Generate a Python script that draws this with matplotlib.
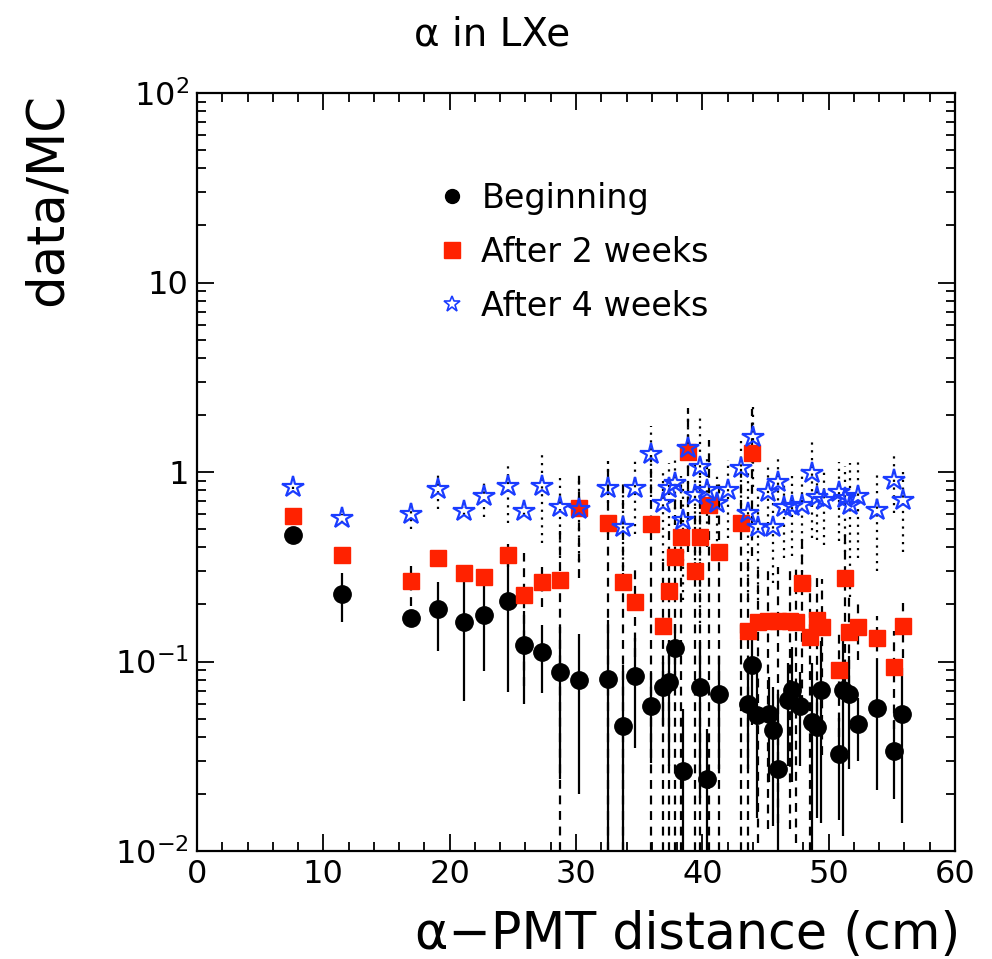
import matplotlib
matplotlib.use('Agg')
import matplotlib.pyplot as plt
from matplotlib.lines import Line2D
from matplotlib.ticker import MultipleLocator, FixedLocator, NullFormatter

plt.rcParams['font.family'] = ['DejaVu Sans']
plt.rcParams['mathtext.default'] = 'regular'

# Beginning (black circles)
x_beg = [7.6, 11.5, 16.9, 19.1, 21.1, 22.7, 24.6, 25.9, 27.3, 28.7, 30.2, 32.5, 33.7, 34.7,
         35.9, 36.9, 37.4, 37.8, 38.5, 39.8, 40.4, 41.3, 43.6, 43.9, 44.3, 45.3, 45.6, 46.0,
         46.8, 47.1, 47.7, 48.7, 49.1, 49.4, 50.8, 51.1, 51.6, 52.3, 53.8, 55.2, 55.8]
y_beg = [0.465, 0.227, 0.17, 0.189, 0.162, 0.176, 0.209, 0.122, 0.112, 0.088, 0.080, 0.081,
         0.0457, 0.084, 0.058, 0.073, 0.078, 0.118, 0.0264, 0.073, 0.024, 0.067, 0.060, 0.096,
         0.052, 0.053, 0.0435, 0.027, 0.063, 0.071, 0.058, 0.048, 0.045, 0.071, 0.0325, 0.071,
         0.067, 0.047, 0.057, 0.0338, 0.053]
e_beg = [0.01, 0.065, 0.015, 0.075, 0.10, 0.087, 0.14, 0.062, 0.044, 0.064, 0.06, 0.085,
         0.05, 0.049, 0.029, 0.027, 0.05, 0.04, 0.03, 0.054, 0.02, 0.04, 0.033, 0.05,
         0.037, 0.03, 0.03, 0.04, 0.035, 0.048, 0.03, 0.05, 0.03, 0.057, 0.018, 0.059,
         0.04, 0.017, 0.036, 0.015, 0.039]

# After 2 weeks (red squares)
x_2w = [7.6, 11.5, 16.9, 19.1, 21.1, 22.7, 24.6, 25.9, 27.3, 28.7, 30.2, 32.5, 33.7, 34.7,
        35.9, 36.9, 37.4, 37.8, 38.3, 38.9, 39.4, 39.8, 40.5, 41.3, 43.1, 43.6, 43.9, 44.4,
        45.2, 46.0, 46.9, 47.4, 47.9, 48.5, 49.1, 49.5, 50.8, 51.3, 51.6, 52.3, 53.8, 55.2, 55.9]
y_2w = [0.586, 0.365, 0.266, 0.352, 0.293, 0.28, 0.365, 0.224, 0.263, 0.27, 0.646, 0.538,
        0.263, 0.206, 0.532, 0.154, 0.236, 0.356, 0.454, 1.28, 0.30, 0.454, 0.67, 0.38,
        0.54, 0.144, 1.26, 0.161, 0.163, 0.164, 0.163, 0.161, 0.26, 0.135, 0.165, 0.152,
        0.09, 0.276, 0.143, 0.152, 0.133, 0.094, 0.154]
e_2w = [0.02, 0.02, 0.07, 0.02, 0.02, 0.02, 0.05, 0.15, 0.07, 0.26, 0.37, 0.6,
        0.6, 0.1, 0.7, 0.2, 0.25, 0.4, 0.5, 0.9, 0.35, 0.5, 0.8, 0.5,
        0.6, 0.2, 0.9, 0.15, 0.15, 0.15, 0.15, 0.15, 0.2, 0.15, 0.12, 0.12,
        0.05, 0.2, 0.08, 0.05, 0.04, 0.05, 0.05]

# After 4 weeks (blue open stars)
x_4w = [7.6, 11.5, 16.9, 19.1, 21.1, 22.7, 24.6, 25.9, 27.3, 28.7, 30.2, 32.5, 33.7, 34.7,
        35.9, 36.9, 37.4, 37.8, 38.5, 38.9, 39.4, 39.8, 40.4, 41.2, 42.0, 43.1, 43.6, 44.0,
        44.4, 45.2, 45.6, 46.0, 46.5, 47.1, 47.9, 48.7, 49.1, 49.6, 50.8, 51.3, 51.7, 52.3,
        53.8, 55.2, 55.9]
y_4w = [0.83, 0.57, 0.60, 0.81, 0.62, 0.75, 0.84, 0.62, 0.84, 0.65, 0.64, 0.82, 0.51, 0.82,
        1.24, 0.69, 0.82, 0.875, 0.56, 1.34, 0.76, 1.06, 0.80, 0.69, 0.80, 1.05, 0.61, 1.53,
        0.51, 0.78, 0.51, 0.885, 0.65, 0.66, 0.67, 0.99, 0.74, 0.71, 0.78, 0.73, 0.67, 0.75,
        0.63, 0.91, 0.71]
e_4w = [0.02, 0.03, 0.1, 0.17, 0.03, 0.17, 0.3, 0.03, 0.42, 0.3, 0.3, 0.35, 0.25, 0.35,
        0.5, 0.35, 0.3, 0.35, 0.35, 0.75, 0.45, 0.9, 0.4, 0.3, 0.35, 0.5, 0.4, 0.7,
        0.3, 0.3, 0.25, 0.3, 0.3, 0.3, 0.4, 0.54, 0.3, 0.3, 0.35, 0.35, 0.45, 0.4,
        0.33, 0.3, 0.33]

RED = '#ff2200'
BLUE = '#1a3cff'

fig = plt.figure(figsize=(9.92, 9.59), dpi=100)
ax = fig.add_axes([197/992, 1-851/959, 758/992, 758/959])
ax.set_yscale('log', nonpositive='clip')

def draw(x, y, e, ls, **mk):
    eb = ax.errorbar(x, y, yerr=e, fmt='none', ecolor='black', elinewidth=1.6, zorder=2)
    eb[2][0].set_linestyle(ls)
    ax.plot(x, y, linestyle='none', zorder=3, **mk)

draw(x_beg, y_beg, e_beg, '-', marker='o', color='black', markersize=12.5)
draw(x_2w, y_2w, e_2w, (0, (4, 3)), marker='s', color=RED, markersize=12)
draw(x_4w, y_4w, e_4w, (0, (1, 2.5)), marker='*', markerfacecolor='none',
     markeredgecolor=BLUE, markeredgewidth=1.6, markersize=16)

ax.set_xlim(0, 60)
ax.set_ylim(1e-2, 1e2)
ax.xaxis.set_major_locator(MultipleLocator(10))
ax.xaxis.set_minor_locator(MultipleLocator(2))
ax.yaxis.set_major_locator(FixedLocator([1e-2, 1e-1, 1, 10, 100]))
ax.set_yticklabels(['$10^{-2}$', '$10^{-1}$', '1', '10', '$10^{2}$'])
ax.yaxis.set_minor_formatter(NullFormatter())
ax.tick_params(which='both', direction='in', top=True, right=True, width=1.3, labelsize=23)
ax.tick_params(which='major', length=12, pad=6)
ax.tick_params(which='minor', length=6.5)
for s in ax.spines.values():
    s.set_linewidth(1.6)

handles = [
    Line2D([], [], linestyle='none', marker='o', color='black', markersize=10),
    Line2D([], [], linestyle='none', marker='s', color=RED, markersize=11),
    Line2D([], [], linestyle='none', marker='*', markerfacecolor='none',
           markeredgecolor=BLUE, markeredgewidth=1.2, markersize=12),
]
ax.legend(handles, ['Beginning', 'After 2 weeks', 'After 4 weeks'], frameon=False,
          loc='upper left', bbox_to_anchor=(0.317, 0.883), borderpad=0, borderaxespad=0,
          handlelength=0.9, handletextpad=0.42, labelspacing=0.63, fontsize=24)

fig.text(492/992, 1-35/959, 'α in LXe', ha='center', va='center', fontsize=28)
fig.text(48/992, 1-93/959, 'data/MC', rotation=90, ha='center', va='top', fontsize=37)
fig.text(960/992, 1-935/959, 'α\u2212PMT distance (cm)', ha='right', va='center', fontsize=36.5)

fig.savefig('out.png', dpi=100)
